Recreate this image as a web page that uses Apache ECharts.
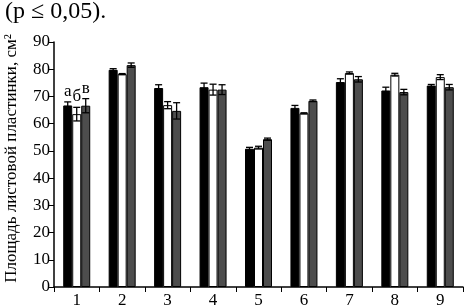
<!DOCTYPE html>
<html><head><meta charset="utf-8">
<script src="https://cdn.jsdelivr.net/npm/echarts@6/dist/echarts.min.js"></script>
<style>html,body{margin:0;padding:0;background:#fff}#c{width:465px;height:307px}</style>
</head><body><div id="c"></div>
<script>
const categories = ['1','2','3','4','5','6','7','8','9'];
const seriesA = [66.7, 79.8, 73.1, 73.4, 50.8, 65.8, 75.3, 72.2, 74.0];
const errA    = [1.3, 0.4, 1.2, 1.5, 0.5, 0.9, 1.2, 1.2, 0.4];
const seriesB = [63.5, 78.2, 66.8, 72.5, 51.2, 63.8, 78.6, 78.0, 77.1];
const errB    = [2.5, 0.2, 1.3, 2.0, 0.5, 0.2, 0.4, 0.5, 0.9];
const seriesC = [66.6, 81.5, 64.7, 72.5, 54.3, 68.4, 76.3, 71.6, 73.4];
const errC    = [2.6, 0.8, 3.0, 1.8, 0.4, 0.3, 1.0, 1.0, 1.0];
const groupLetters = ['а','б','в'];
const yTicks = [0,10,20,30,40,50,60,70,80,90];

const chart = echarts.init(document.getElementById('c'));
const BW = 9;
const font = 'Liberation Serif';

function barSeries(vals, color, letter, err) {
  return {
    type: 'bar', barWidth: BW, barGap: '0%',
    itemStyle: { color: color, borderColor: '#000', borderWidth: 1 },
    data: vals.map((v, i) => i === 0 ? {
      value: v,
      label: { show: true, position: 'top', distance: 2 + (err[0]) * 2.7, formatter: letter,
               fontFamily: font, fontSize: 17, color: '#000' }
    } : v),
    z: 2
  };
}
function errSeries(vals, errs, offset) {
  return {
    type: 'custom', z: 5,
    renderItem: function (params, api) {
      const i = api.value(0);
      const hi = api.coord([i, api.value(1) + api.value(2)]);
      const lo = api.coord([i, api.value(1) - api.value(2)]);
      const x = hi[0] + offset;
      const hw = BW / 2 - 1;
      const st = { stroke: '#000', lineWidth: 1.3 };
      return { type: 'group', children: [
        { type: 'line', shape: { x1: x, y1: hi[1], x2: x, y2: lo[1] }, style: st },
        { type: 'line', shape: { x1: x - hw, y1: hi[1], x2: x + hw, y2: hi[1] }, style: st },
        { type: 'line', shape: { x1: x - hw, y1: lo[1], x2: x + hw, y2: lo[1] }, style: st }
      ]};
    },
    data: vals.map((v, i) => [i, v, errs[i]])
  };
}

chart.setOption({
  animation: false,
  title: { text: '(p ≤ 0,05).', left: 0, top: -5,
           textStyle: { fontFamily: font, fontSize: 24, fontWeight: 'normal', color: '#000' } },
  grid: { left: 54, right: 2, top: 42, bottom: 20, containLabel: false, outerBoundsMode: 'none' },
  xAxis: {
    type: 'category', data: categories,
    axisLine: { lineStyle: { color: '#000', width: 1.5 } },
    axisTick: { show: true, length: 5, lineStyle: { color: '#000' } },
    axisLabel: { fontFamily: font, fontSize: 17, color: '#000', margin: 5 }
  },
  yAxis: {
    type: 'value', min: 0, max: 90, interval: 10,
    name: 'Площадь листовой пластинки, см²', nameLocation: 'middle', nameGap: 34,
    nameTextStyle: { fontFamily: font, fontSize: 17, color: '#000', padding: [0, 0, 0, 12] },
    axisLine: { show: true, lineStyle: { color: '#000', width: 1.5 } },
    axisTick: { show: true, length: 5, lineStyle: { color: '#000' } },
    axisLabel: { fontFamily: font, fontSize: 17, color: '#000', margin: 4,
                 formatter: v => yTicks.includes(v) ? String(v) : '' },
    splitLine: { show: false }
  },
  series: [
    barSeries(seriesA, '#000000', groupLetters[0], errA),
    barSeries(seriesB, '#ffffff', groupLetters[1], errB),
    barSeries(seriesC, '#4d4d4d', groupLetters[2], errC),
    errSeries(seriesA, errA, -BW),
    errSeries(seriesB, errB, 0),
    errSeries(seriesC, errC, BW)
  ]
});
</script></body></html>
